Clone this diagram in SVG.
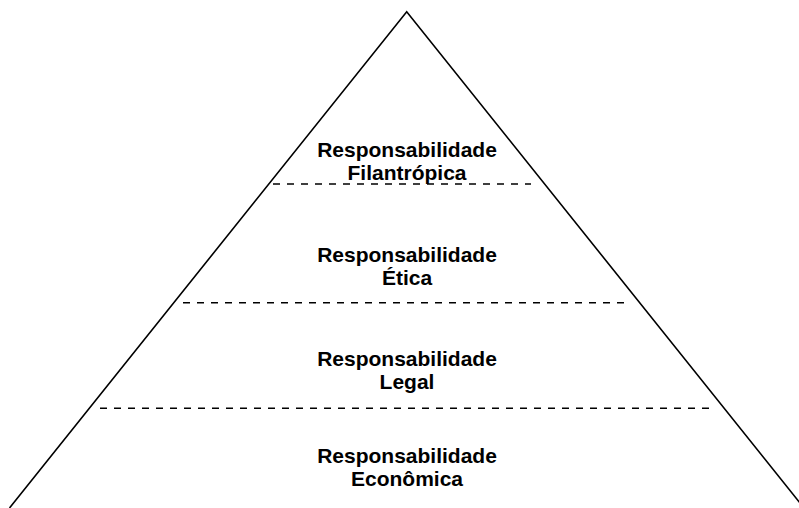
<svg xmlns="http://www.w3.org/2000/svg" width="799" height="508" viewBox="0 0 799 508">
<style>
.edge{fill:none;stroke:#000;stroke-width:1.6}
.dash{fill:none;stroke:#000;stroke-width:1.5;stroke-dasharray:7 7}
.lbl{font-family:"Liberation Sans",Arial,Helvetica,sans-serif;font-weight:bold;font-size:21px;fill:#000;text-anchor:middle}
</style>
<rect width="799" height="508" fill="#fff"/>
<g id="pyramid">
<path class="edge" d="M9.5 508 L406.7 11.7 L804 508"/>
</g>
<g id="connectors">
<line class="dash" x1="273" y1="184" x2="531" y2="184"/>
<line class="dash" x1="183" y1="302.7" x2="628" y2="302.7"/>
<line class="dash" x1="100" y1="408.3" x2="715" y2="408.3"/>
</g>
<g id="filantropica">
<text class="lbl" x="407" y="157">Responsabilidade</text>
<text class="lbl" x="407" y="180">Filantrópica</text>
</g>
<g id="etica">
<text class="lbl" x="407" y="262.3">Responsabilidade</text>
<text class="lbl" x="407" y="285.3">Ética</text>
</g>
<g id="legal">
<text class="lbl" x="407" y="366">Responsabilidade</text>
<text class="lbl" x="407" y="389">Legal</text>
</g>
<g id="economica">
<text class="lbl" x="407" y="462.7">Responsabilidade</text>
<text class="lbl" x="407" y="485.7">Econômica</text>
</g>
</svg>
